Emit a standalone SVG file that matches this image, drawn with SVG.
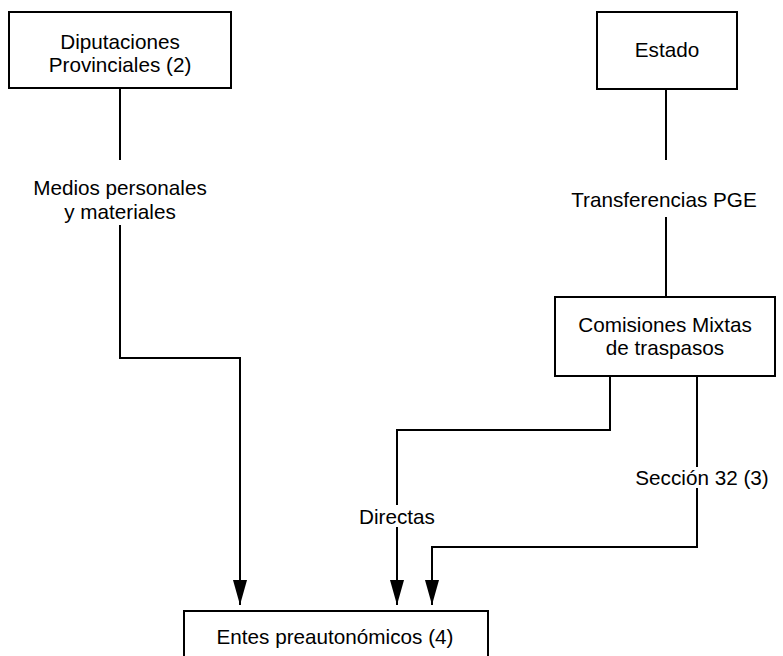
<svg xmlns="http://www.w3.org/2000/svg" width="783" height="656" viewBox="0 0 783 656">
<style>
rect{fill:#fff;stroke:#000;stroke-width:2}
text{font-family:"Liberation Sans",Arial,sans-serif;font-size:20.7px;fill:#000;text-anchor:middle}
.c{fill:none;stroke:#000;stroke-width:2}
</style>
<defs>
<marker id="ah" markerWidth="25" markerHeight="14" refX="25" refY="7" orient="auto" markerUnits="userSpaceOnUse" viewBox="0 0 25 14">
<path d="M0,0 L25,7 L0,14 Z" fill="#000"/>
</marker>
</defs>
<rect width="783" height="656" style="fill:#fff;stroke:none"/>
<g id="connectors">
<path class="c" d="M120,88 V160"/>
<path class="c" d="M120,225 V358 H240 V605" marker-end="url(#ah)"/>
<path class="c" d="M666,89 V160"/>
<path class="c" d="M666,217 V297"/>
<path class="c" d="M610,376 V430 H397 V505"/>
<path class="c" d="M397,527 V605" marker-end="url(#ah)"/>
<path class="c" d="M697,376 V467"/>
<path class="c" d="M697,488 V547 H432 V605" marker-end="url(#ah)"/>
<text x="120" y="195">Medios personales</text>
<text x="120" y="219">y materiales</text>
<text x="664" y="207">Transferencias PGE</text>
<text x="397" y="524">Directas</text>
<text x="702" y="485">Sección 32 (3)</text>
</g>
<g id="diputaciones">
<rect x="9" y="12" width="222" height="76"/>
<text x="120" y="49">Diputaciones</text>
<text x="120" y="72">Provinciales (2)</text>
</g>
<g id="estado">
<rect x="597" y="12" width="140" height="77"/>
<text x="667" y="57">Estado</text>
</g>
<g id="comisiones">
<rect x="555" y="297" width="220" height="79"/>
<text x="665" y="332">Comisiones Mixtas</text>
<text x="665" y="355">de traspasos</text>
</g>
<g id="entes">
<rect x="184" y="611" width="304" height="60"/>
<text x="335" y="644">Entes preautonómicos (4)</text>
</g>
</svg>
